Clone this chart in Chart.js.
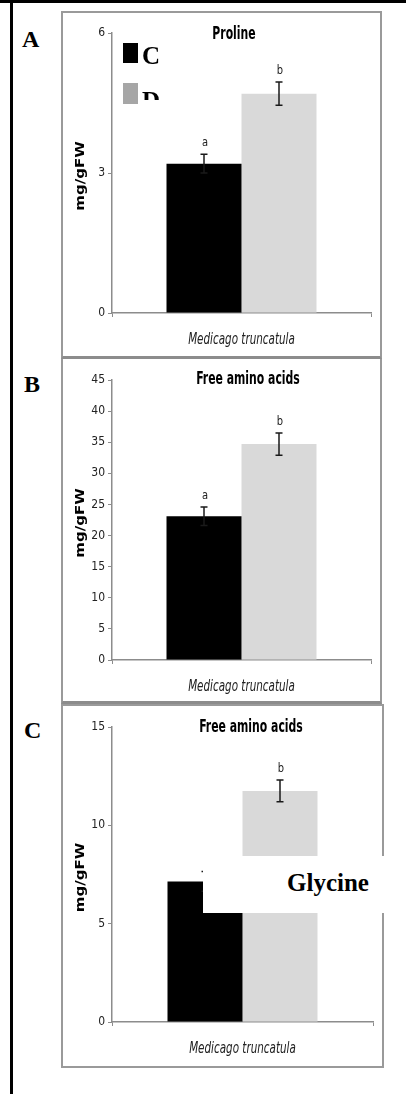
<!DOCTYPE html>
<html>
<head>
<meta charset="utf-8">
<script src="https://cdn.jsdelivr.net/npm/chart.js@4.4.1/dist/chart.umd.min.js"></script>
<style>
  html, body { margin: 0; padding: 0; background: #fff; }
  body { position: relative; width: 406px; height: 1094px; overflow: hidden; }
  .abs { position: absolute; }
  .frame { position: absolute; box-sizing: border-box; border: 2px solid #9a9a9a; }
  .letter { position: absolute; font: bold 24px 'Liberation Serif', 'DejaVu Serif', serif; line-height: 24px; }
  .legtxt { position: absolute; font: bold 25px 'Liberation Serif', 'DejaVu Serif', serif; line-height: 25px; }
  canvas { position: absolute; left: 0; }
</style>
</head>
<body>
<div class="abs" style="left:0;top:0;width:406px;height:3px;background:#000"></div>
<div class="abs" style="left:10px;top:0;width:3px;height:1094px;background:#000"></div>

<div class="frame" style="left:61px;top:11px;width:321px;height:348px;border-bottom:3px solid #8c8c8c"></div>
<div class="frame" style="left:61px;top:359px;width:321px;height:345px;border-top:none;border-bottom:3px solid #8c8c8c"></div>
<div class="frame" style="left:61px;top:704px;width:323px;height:364px"></div>

<div class="letter" style="left:22px;top:27px">A</div>
<div class="letter" style="left:24px;top:372px">B</div>
<div class="letter" style="left:24px;top:718px">C</div>

<canvas id="prolineChart" style="top:12px" width="406" height="346"></canvas>
<canvas id="aminoChart" style="top:358px" width="406" height="345"></canvas>
<canvas id="glycineChart" style="top:704px" width="406" height="364"></canvas>

<!-- legend of panel A -->
<div class="abs" style="left:123px;top:43px;width:15px;height:20px;background:#000"></div>
<div class="legtxt" style="left:142px;top:43px">C</div>
<div class="abs" style="left:123px;top:83px;width:15px;height:21px;background:#a6a6a6"></div>
<div class="abs" style="left:140px;top:83px;width:30px;height:17px;overflow:hidden">
  <div class="legtxt" style="left:2px;top:5px">D</div>
</div>

<!-- label pasted over panel C -->
<div class="abs" style="left:203px;top:856px;width:182px;height:57px;background:#fff;z-index:5">
  <div class="abs" style="left:84px;top:14px;font:bold 25px 'Liberation Serif','DejaVu Serif',serif;line-height:25px">Glycine</div>
</div>

<script>
// Daten
const categories = ['Medicago truncatula'];
const seriesNames = ['C', 'D'];
const seriesColors = ['#000000', '#d9d9d9'];

// Proline
const prolineMeans = [3.2, 4.7];
const prolineErrors = [0.2, 0.25];
const prolineLetters = ['a', 'b'];
const prolineTicks = [0, 3, 6];

// Free amino acids (B)
const aminoMeans = [23.1, 34.7];
const aminoErrors = [1.5, 1.8];
const aminoLetters = ['a', 'b'];
const aminoTicks = [0, 5, 10, 15, 20, 25, 30, 35, 40, 45];

// Free amino acids (C, glycine)
const glycineMeans = [7.15, 11.75];
const glycineErrors = [0.5, 0.55];
const glycineLetters = ['a', 'b'];
const glycineTicks = [0, 5, 10, 15];

const narrow = "'Liberation Sans Narrow', 'DejaVu Sans Condensed', 'Arial Narrow', sans-serif";
const axisGray = '#8c8c8c';

// squeezed text (condensed look)
function squeezed(ctx, text, x, y, sx) {
    ctx.save();
    ctx.translate(x, y);
    ctx.scale(sx, 1);
    ctx.fillText(text, 0, 0);
    ctx.restore();
}

// error bars, letters, titles
const extrasPlugin = {
    id: 'extras',
    afterDatasetsDraw(chart, args, opts) {
        const ctx = chart.ctx;
        const y = chart.scales.y;
        const x = chart.scales.x;
        const area = chart.chartArea;
        ctx.save();
        chart.data.datasets.forEach((ds, i) => {
            const bar = chart.getDatasetMeta(i).data[0];
            const m = ds.data[0], e = opts.errors[i];
            const yTop = y.getPixelForValue(m + e);
            const yBot = y.getPixelForValue(m - e);
            ctx.strokeStyle = '#1a1a1a';
            ctx.lineWidth = 1.5;
            ctx.beginPath();
            ctx.moveTo(bar.x, yTop); ctx.lineTo(bar.x, yBot);
            ctx.moveTo(bar.x - 3.5, yTop); ctx.lineTo(bar.x + 3.5, yTop);
            ctx.moveTo(bar.x - 3.5, yBot); ctx.lineTo(bar.x + 3.5, yBot);
            ctx.stroke();
            ctx.fillStyle = '#222';
            ctx.font = '13px ' + narrow;
            ctx.textAlign = 'center';
            ctx.textBaseline = 'bottom';
            squeezed(ctx, opts.letters[i], bar.x + 1, yTop - 5, 0.85);
        });
        // title
        ctx.fillStyle = '#000';
        ctx.font = 'bold 17px ' + narrow;
        ctx.textAlign = 'center';
        ctx.textBaseline = 'middle';
        squeezed(ctx, opts.title, opts.titleX, opts.titleY, 0.71);
        // category label under the axis
        ctx.fillStyle = '#222';
        ctx.font = 'italic 15px ' + narrow;
        squeezed(ctx, categories[0], (x.left + x.right) / 2, area.bottom + 27, 0.77);
        // y axis title, stretched
        ctx.fillStyle = '#000';
        ctx.translate(81, (area.top + area.bottom) / 2 + 3);
        ctx.rotate(-Math.PI / 2);
        ctx.scale(1.2, 1);
        ctx.font = 'bold 12.5px "DejaVu Sans", Verdana, sans-serif';
        ctx.fillText('mg/gFW', 0, 0);
        ctx.restore();
    }
};

function makeChart(id, means, errors, letters, ticks, title, titleX, titleY, padTop, areaBottom, height, right) {
    const ctx = document.getElementById(id).getContext('2d');
    const maxVal = ticks[ticks.length - 1];
    return new Chart(ctx, {
        type: 'bar',
        data: {
            labels: categories,
            datasets: seriesNames.map((name, i) => ({
                label: name,
                data: [means[i]],
                backgroundColor: seriesColors[i],
                borderWidth: 0,
                barPercentage: 1,
                categoryPercentage: 150 / (right - 112)
            }))
        },
        options: {
            responsive: false,
            animation: false,
            layout: { padding: { left: 52, right: 406 - right, top: padTop, bottom: height - areaBottom - 34 } },
            plugins: {
                legend: { display: false },
                tooltip: { enabled: false },
                extras: { errors: errors, letters: letters, title: title, titleX: titleX, titleY: titleY }
            },
            scales: {
                x: {
                    afterFit: s => { s.height = 34; },
                    grid: { drawOnChartArea: false, tickLength: 4, color: axisGray },
                    border: { color: axisGray, width: 1.5 },
                    ticks: { display: false }
                },
                y: {
                    min: 0,
                    max: maxVal,
                    afterFit: s => { s.width = 60; },
                    afterBuildTicks: s => { s.ticks = ticks.map(v => ({ value: v })); },
                    grid: { drawOnChartArea: false, tickLength: 4, color: axisGray },
                    border: { color: axisGray, width: 1.5 },
                    ticks: { color: '#222', padding: 3, font: { family: narrow, size: 12 } }
                }
            }
        },
        plugins: [extrasPlugin]
    });
}

makeChart('prolineChart', prolineMeans, prolineErrors, prolineLetters, prolineTicks,
    'Proline', 234, 23, 21, 301, 346, 371);
makeChart('aminoChart', aminoMeans, aminoErrors, aminoLetters, aminoTicks,
    'Free amino acids', 248, 22, 22, 302, 345, 371);
makeChart('glycineChart', glycineMeans, glycineErrors, glycineLetters, glycineTicks,
    'Free amino acids', 251, 24, 23, 318, 364, 373);
</script>
</body>
</html>
